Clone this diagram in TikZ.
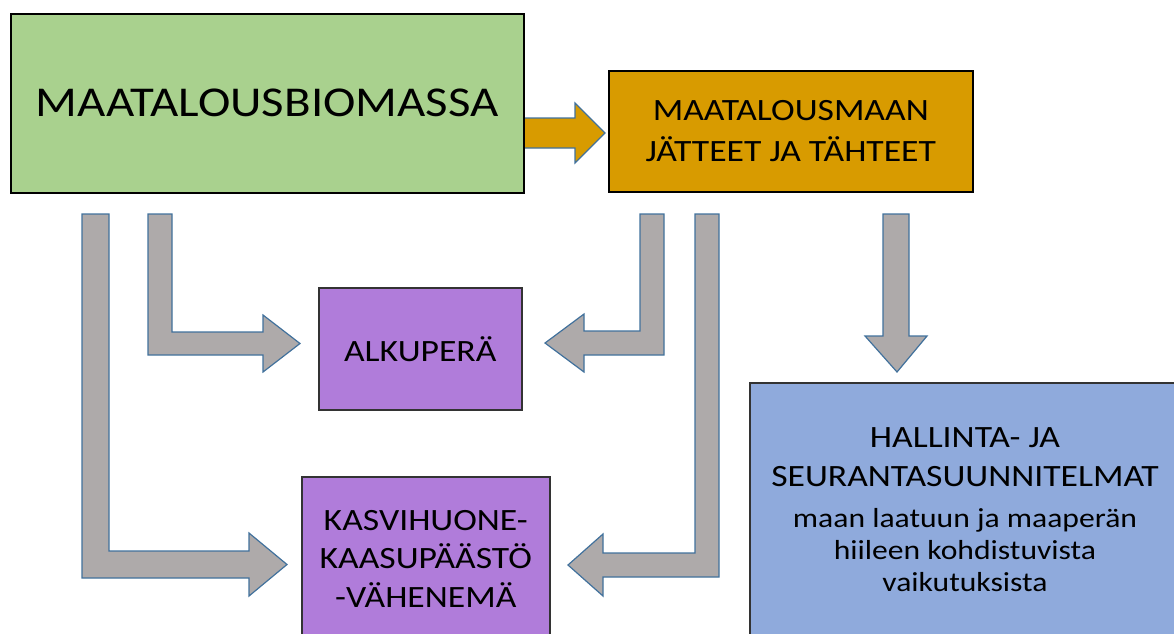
\documentclass[tikz,border=0pt]{standalone}
\usepackage{fontspec}
\setmainfont{Carlito}[FakeStretch=1.15]
\definecolor{cgreen}{HTML}{A9D18E}
\definecolor{corange}{HTML}{D89B00}
\definecolor{cpurple}{HTML}{B07CDA}
\definecolor{cblue}{HTML}{8FAADC}
\definecolor{cgray}{HTML}{AEAAAA}
\definecolor{cedge}{HTML}{41719C}
\tikzset{
  box/.style={draw=black, line width=1.5pt, anchor=north west, align=center, inner sep=0pt, text=black},
  blockarrow/.style={draw=cedge, line width=1.2pt, fill=cgray, line join=miter},
  plaintext/.style={align=center, anchor=center, inner sep=0pt, text=black},
}
\begin{document}
\begin{tikzpicture}[x=1pt,y=-1pt]
\useasboundingbox (0,0) rectangle (1174,633);
% block arrows
\draw[blockarrow, fill=corange] (523,118) -- (575,118) -- (575,103) -- (605,133) -- (575,163) -- (575,148) -- (523,148) -- cycle;
\draw[blockarrow] (82,214) -- (109,214) -- (109,551) -- (249,551) -- (249,533) -- (287,564.5) -- (249,596) -- (249,578) -- (82,578) -- cycle;
\draw[blockarrow] (148,214) -- (172,214) -- (172,332) -- (263,332) -- (263,315) -- (300,343.5) -- (263,372) -- (263,355) -- (148,355) -- cycle;
\draw[blockarrow] (640,214) -- (664,214) -- (664,355) -- (584,355) -- (584,372) -- (545,343) -- (584,314) -- (584,331) -- (640,331) -- cycle;
\draw[blockarrow] (695,214) -- (719,214) -- (719,577) -- (603,577) -- (603,596) -- (568,565) -- (603,534) -- (603,553) -- (695,553) -- cycle;
\draw[blockarrow] (883,214) -- (909,214) -- (909,336) -- (927,336) -- (897,372) -- (865,336) -- (883,336) -- cycle;
% boxes
\node[box, fill=cgreen, minimum width=513pt, minimum height=179pt, font=\fontsize{42.5}{48}\selectfont] (bio) at (10,13) {MAATALOUSBIOMASSA};
\node[box, fill=corange, minimum width=364pt, minimum height=121pt, font=\fontsize{31}{41}\selectfont] (jat) at (608,70) {MAATALOUSMAAN\\JÄTTEET JA TÄHTEET};
\node[box, fill=cpurple, draw=black!80, minimum width=203pt, minimum height=122pt, font=\fontsize{31}{38}\selectfont] (alk) at (318,287) {ALKUPERÄ};
\node[box, fill=cpurple, draw=black!80, minimum width=248pt, minimum height=164pt, font=\fontsize{31}{38.5}\selectfont] (kas) at (301,476) {KASVIHUONE-\\KAASUPÄÄSTÖ\\-VÄHENEMÄ};
\node[box, fill=cblue, draw=black!80, minimum width=440pt, minimum height=256pt] (hal) at (749,382) {};
\node[plaintext, font=\fontsize{31}{39}\selectfont] (haltitle) at (965,457) {HALLINTA- JA\\SEURANTASUUNNITELMAT};
\node[plaintext, font=\fontsize{27.5}{32}\selectfont] (halsub) at (965,550) {maan laatuun ja maaperän\\hiileen kohdistuvista\\vaikutuksista};
\end{tikzpicture}
\end{document}
